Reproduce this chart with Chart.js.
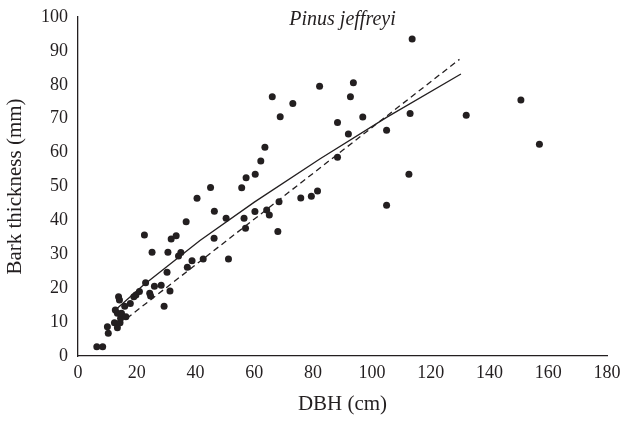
<!DOCTYPE html>
<html>
<head>
<meta charset="utf-8">
<script src="https://cdn.jsdelivr.net/npm/chart.js@4"></script>
<style>
  html, body { margin: 0; padding: 0; background: #fff; }
  #wrap { width: 623px; height: 421px; }
</style>
</head>
<body>
<div id="wrap"><canvas id="c" width="623" height="421"></canvas></div>
<script>
// Observed trees: diameter at breast height (cm) and bark thickness (mm)
const dbh = [6.4, 8.4, 10.0, 10.3, 12.4, 13.4, 12.7, 13.4, 13.8, 14.1, 14.3, 14.5, 14.8, 16.3, 15.9, 17.8, 19.0, 19.7, 20.9,
  22.6, 23.0, 24.4, 24.7, 25.2, 26.0, 28.3, 29.3, 30.3, 30.6, 31.3, 31.7, 33.4, 34.2, 35.0, 36.8, 37.2, 38.8, 40.5, 42.6,
  45.1, 46.4, 46.3, 50.4, 51.2, 55.7, 56.5, 57.0, 60.2, 64.2, 65.1, 68.0, 68.4, 75.8, 79.4, 81.5, 57.2, 60.3, 62.2, 63.6,
  66.1, 68.8, 73.1, 82.2, 113.7, 93.7, 92.7, 96.9, 88.3, 113.0, 92.0, 105.0, 132.1, 150.7, 157.0, 88.3, 112.6, 105.0];
const bark = [2.7, 2.7, 8.6, 6.7, 9.8, 8.3, 13.6, 12.6, 17.5, 16.5, 9.8, 11.1, 12.6, 11.6, 14.7, 15.5, 17.5, 18.0, 19.0,
  35.7, 21.6, 18.5, 17.7, 30.6, 20.6, 20.9, 14.7, 24.7, 30.6, 19.2, 34.5, 35.5, 29.5, 30.5, 39.6, 26.2, 28.1, 46.5, 28.6,
  49.7, 42.7, 34.7, 40.6, 28.6, 49.6, 40.6, 37.7, 42.6, 43.1, 41.6, 36.7, 45.5, 46.6, 47.1, 48.7, 52.6, 53.6, 57.5, 61.6,
  76.5, 70.6, 74.5, 79.6, 93.5, 80.6, 76.5, 70.5, 68.9, 71.5, 65.5, 66.6, 71.0, 75.5, 62.5, 58.6, 53.6, 44.5];

// Fitted curve (solid)
const fitSolidX = [13, 22, 41.5, 60, 82.4, 105, 130.3];
const fitSolidY = [13.8, 20.7, 34.1, 45.4, 58.2, 70.4, 83.2];
// Fitted line (dashed)
const fitDashX = [16.6, 129.8];
const fitDashY = [11.1, 87.5];

const xTicks = [0, 20, 40, 60, 80, 100, 120, 140, 160, 180];
const yTicks = [0, 10, 20, 30, 40, 50, 60, 70, 80, 90, 100];

const titleText = 'Pinus jeffreyi';
const xTitle = 'DBH (cm)';
const yTitle = 'Bark thickness (mm)';

const INK = '#231f20';
const SERIF = '"Liberation Serif", "Times New Roman", "DejaVu Serif", serif';

const toPts = (xs, ys) => xs.map((x, i) => ({ x: x, y: ys[i] }));

const titlePlugin = {
  id: 'innerTitle',
  afterDraw(chart) {
    const { ctx, chartArea } = chart;
    ctx.save();
    ctx.font = 'italic 20px ' + SERIF;
    ctx.fillStyle = INK;
    ctx.textAlign = 'center';
    ctx.textBaseline = 'alphabetic';
    ctx.fillText(titleText, (chartArea.left + chartArea.right) / 2, 25);
    ctx.restore();
  }
};

new Chart(document.getElementById('c'), {
  type: 'scatter',
  data: {
    datasets: [
      {
        label: 'Trees',
        data: toPts(dbh, bark),
        pointRadius: 3.5,
        pointBackgroundColor: INK,
        pointBorderWidth: 0,
        showLine: false,
        order: 1
      },
      {
        label: 'Fit solid',
        type: 'line',
        data: toPts(fitSolidX, fitSolidY),
        borderColor: INK,
        borderWidth: 1.3,
        pointRadius: 0,
        fill: false,
        tension: 0,
        order: 2
      },
      {
        label: 'Fit dashed',
        type: 'line',
        data: toPts(fitDashX, fitDashY),
        borderColor: INK,
        borderWidth: 1.3,
        borderDash: [6, 4],
        pointRadius: 0,
        fill: false,
        tension: 0,
        order: 3
      }
    ]
  },
  options: {
    responsive: false,
    animation: false,
    events: [],
    layout: { padding: { left: 0, top: 17, right: 16, bottom: 4 } },
    plugins: {
      legend: { display: false },
      tooltip: { enabled: false },
      title: { display: false }
    },
    scales: {
      x: {
        type: 'linear',
        min: 0,
        max: 180,
        afterBuildTicks: (s) => { s.ticks = xTicks.map(v => ({ value: v })); },
        afterFit: (s) => { s.height = 61; },
        grid: { display: false, drawTicks: false },
        border: { display: true, color: INK, width: 1.3 },
        ticks: {
          color: INK,
          padding: 2,
          maxRotation: 0,
          font: { family: SERIF, size: 18, lineHeight: 1.667 }
        },
        title: {
          display: true,
          text: xTitle,
          color: INK,
          font: { family: SERIF, size: 21 },
          padding: { top: 0, bottom: 0 }
        }
      },
      y: {
        type: 'linear',
        min: 0,
        max: 100,
        afterBuildTicks: (s) => { s.ticks = yTicks.map(v => ({ value: v })); },
        afterFit: (s) => { s.width = 78; },
        grid: { display: false, drawTicks: false },
        border: { display: true, color: INK, width: 1.3 },
        ticks: {
          color: INK,
          padding: 10,
          font: { family: SERIF, size: 18, lineHeight: 0.6 }
        },
        title: {
          display: true,
          text: yTitle,
          color: INK,
          font: { family: SERIF, size: 21 },
          padding: { top: 3, bottom: 0 }
        }
      }
    }
  },
  plugins: [titlePlugin]
});
</script>
</body>
</html>
